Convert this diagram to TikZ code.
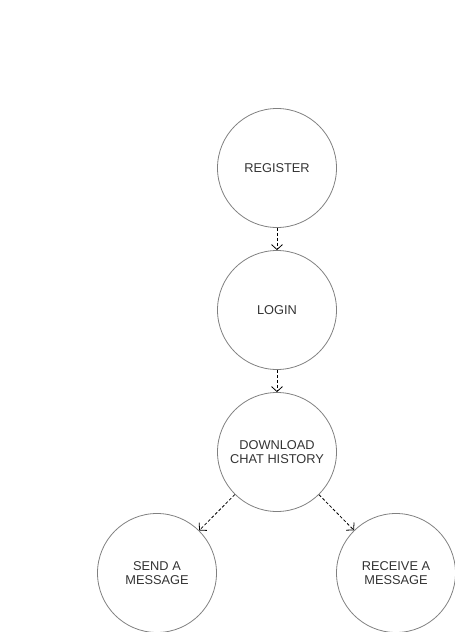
\documentclass[tikz,border=0pt]{standalone}
\usepackage{fontspec}
\setmainfont{Liberation Sans}
\usepackage{xcolor}
\usetikzlibrary{positioning,arrows.meta,graphs}
\definecolor{ringgray}{HTML}{808080}
\definecolor{txtgray}{HTML}{333333}

\begin{document}
\begin{tikzpicture}[x=1pt,y=-1pt,
    usecase/.style={circle, minimum size=119pt, inner sep=0pt, draw=ringgray, line width=0.8pt,
        text=txtgray, align=center, font=\fontsize{12.8}{14}\selectfont},
    flow/.style={dash pattern=on 3pt off 2pt, line width=0.8pt, -{Straight Barb[length=5pt,width=11pt]}}]
        \useasboundingbox (0,0) rectangle (455,632);
        \node[usecase] (register) at (277,168) {REGISTER};
        \node[usecase] (login) at (277,310) {LOGIN};
        \node[usecase] (download) at (277,452) {DOWNLOAD\\CHAT HISTORY};
        \node[usecase] (send) at (157,573) {SEND A\\MESSAGE};
        \node[usecase] (receive) at (396,573) {RECEIVE A\\MESSAGE};
        \graph [edges={flow}] {
        (register) -> (login),
        (login) -> (download),
        (download) -> (send),
        (download) -> (receive),
        };
    \end{tikzpicture}
\end{document}
